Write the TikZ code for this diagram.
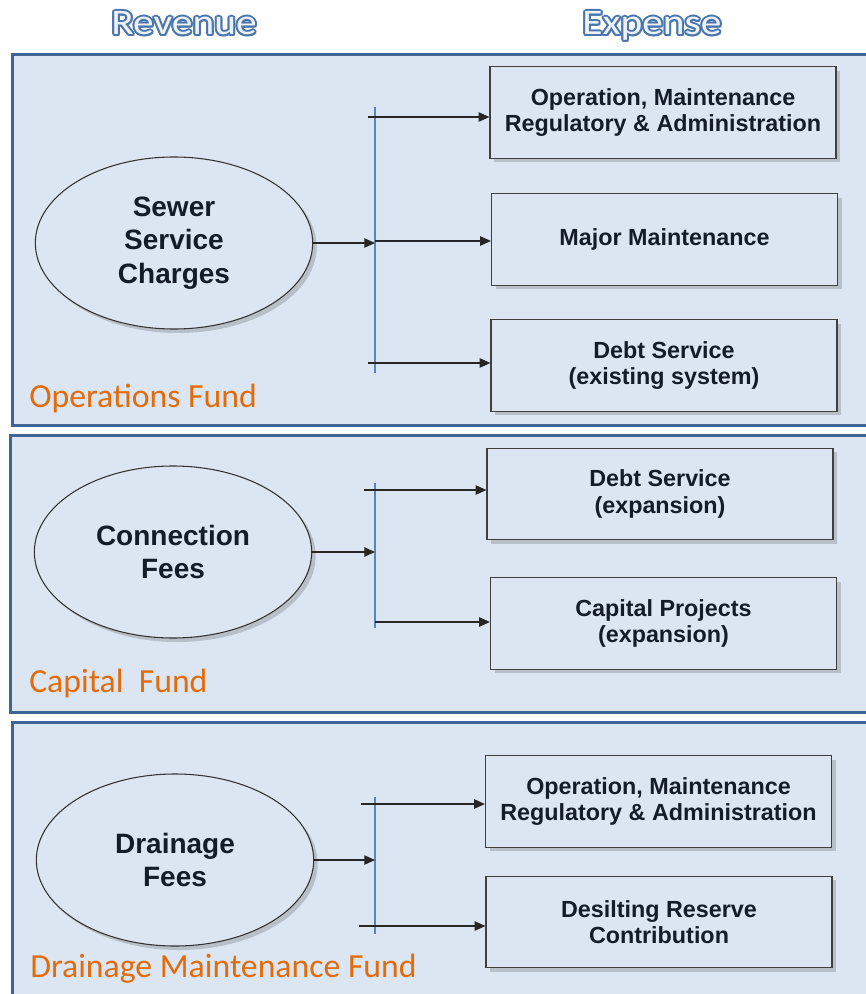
\documentclass[tikz,border=0pt]{standalone}
\usepackage{fontspec}
\setmainfont{Liberation Sans}
\newfontfamily\calfont{Carlito}
\usetikzlibrary{shapes.geometric,shadows,arrows.meta}
\definecolor{panelfill}{HTML}{DCE6F2}
\definecolor{panelline}{HTML}{3D6696}
\definecolor{busline}{HTML}{5585C8}
\definecolor{fundtext}{HTML}{E36C0A}
\definecolor{headfill}{HTML}{EEF3FA}
\definecolor{headline}{HTML}{4A76AE}
\definecolor{inktext}{HTML}{141C28}
\newcommand{\widehead}[1]{\scalebox{1.15}[1]{#1}}
\tikzset{
  panel/.style={draw=panelline, line width=2.25pt, fill=panelfill},
  source/.style={ellipse, draw=black!80, line width=0.8pt, fill=panelfill,
    minimum width=208pt, minimum height=129pt, inner sep=0pt, align=center,
    font=\fontsize{21}{25}\selectfont\bfseries, text=inktext,
    drop shadow={shadow xshift=3pt, shadow yshift=-3pt, opacity=0.25, fill=black!70}},
  cost/.style={rectangle, draw=black!75, line width=0.9pt, fill=panelfill,
    minimum width=259.5pt, minimum height=68.5pt, align=center,
    font=\fontsize{17.5}{20}\selectfont\bfseries, text=inktext,
    drop shadow={shadow xshift=3pt, shadow yshift=-3pt, opacity=0.25, fill=black!70}},
  fund/.style={anchor=base west, inner sep=0pt, text=fundtext,
    font=\calfont\fontsize{25.3}{30}\selectfont},
  head/.style={anchor=base, inner sep=0pt, font=\calfont\fontsize{27}{30}\selectfont},
  feed/.style={draw=black!85, line width=0.9pt, -{Triangle[length=8pt,width=7pt]}},
  bus/.style={draw=busline, line width=0.8pt}
}
\begin{document}
\begin{tikzpicture}[x=0.75pt, y=-0.75pt]
  \useasboundingbox (0,0) rectangle (865,994);
  \fill[white] (0,0) rectangle (865,994);
  \draw[panel] (12,55) rectangle (905,425);
  \draw[panel] (10,435) rectangle (905,712);
  \draw[panel] (12,722) rectangle (905,1010);
  \path
    (186,37) node[head, text=black, opacity=0.25] {\widehead{Revenue}}
    (654,37) node[head, text=black, opacity=0.25] {\widehead{Expense}};
  \foreach \a in {0,30,...,330} {
    \path ([shift={(\a:2)}]184,35) node[head, text=headline] {\widehead{Revenue}};
    \path ([shift={(\a:2)}]652,35) node[head, text=headline] {\widehead{Expense}};
  }
  \path
    (184,35) node[head, text=headfill] (rev) {\widehead{Revenue}}
    (652,35) node[head, text=headfill] (exp) {\widehead{Expense}};
  \path
    (174,243) node[source] (sewer) {Sewer\\Service\\Charges}
    (173,552) node[source] (conn) {Connection\\Fees}
    (175,860) node[source] (drain) {Drainage\\Fees};
  \path
    (663,112.5) node[cost] (om1) {Operation, Maintenance\\Regulatory \& Administration}
    (664.5,239.5) node[cost] (major) {Major Maintenance}
    (664,365.5) node[cost] (debt1) {Debt Service\\(existing system)}
    (660,494) node[cost] (debt2) {Debt Service\\(expansion)}
    (663.5,623.5) node[cost] (capproj) {Capital Projects\\(expansion)}
    (658.5,801.5) node[cost] (om2) {Operation, Maintenance\\Regulatory \& Administration}
    (659,922) node[cost] (desilt) {Desilting Reserve\\Contribution};
  \path
    (29,407) node[fund] (opsfund) {Operations Fund}
    (29,692) node[fund] (capfund) {Capital\ \ Fund}
    (30,977) node[fund] (drainfund) {Drainage Maintenance Fund};
  \path
    (375,107) coordinate (b1top) (375,373) coordinate (b1bot) (375,243) coordinate (b1in)
    (368,117) coordinate (t1a) (375,241) coordinate (t1b) (368,363) coordinate (t1c)
    (375,483) coordinate (b2top) (375,628) coordinate (b2bot) (375,552) coordinate (b2in)
    (364,490) coordinate (t2a) (375,622) coordinate (t2b)
    (375,797) coordinate (b3top) (375,934) coordinate (b3bot) (375,860) coordinate (b3in)
    (361,804) coordinate (t3a) (359,926) coordinate (t3b);
  \begin{scope}[bus]
    \draw (b1top) to (b1bot);
    \draw (b2top) to (b2bot);
    \draw (b3top) to (b3bot);
  \end{scope}
  \begin{scope}[feed]
    \draw (sewer) to (b1in);
    \draw (conn) to (b2in);
    \draw (drain) to (b3in);
    \draw (t1a) to (t1a -| om1.west);
    \draw (t1b) to (t1b -| major.west);
    \draw (t1c) to (t1c -| debt1.west);
    \draw (t2a) to (t2a -| debt2.west);
    \draw (t2b) to (t2b -| capproj.west);
    \draw (t3a) to (t3a -| om2.west);
    \draw (t3b) to (t3b -| desilt.west);
  \end{scope}
\end{tikzpicture}
\end{document}
